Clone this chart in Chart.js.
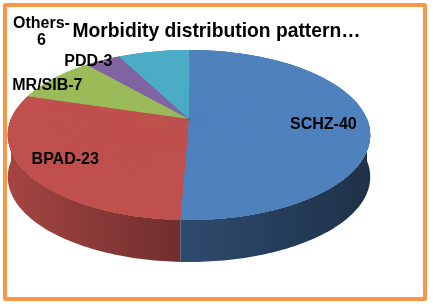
<!DOCTYPE html>
<html>
<head>
<meta charset="utf-8">
<script src="https://cdn.jsdelivr.net/npm/chart.js@4/dist/chart.umd.min.js"></script>
<style>
  body { margin: 0; background: #fff; }
  #frame {
    position: absolute; left: 3px; top: 3px; width: 424px; height: 298px;
    box-sizing: border-box; border: 4px solid #F79646; border-radius: 3px;
  }
  #chart { position: absolute; left: 0; top: 0; }
</style>
</head>
<body>
<div id="frame"></div>
<canvas id="chart" width="433" height="307"></canvas>
<script>
const categories = ['SCHZ', 'BPAD', 'MR/SIB', 'PDD', 'Others'];
const counts = [40, 23, 7, 3, 6];
const sliceColors = ['#4F81BD', '#C0504D', '#9BBB59', '#8064A2', '#4BACC6'];
const chartTitle = 'Morbidity distribution pattern\u2026';

// tilted pie seen in perspective (screen pixels)
const CX = 189, VY = 119;      // where the slices meet
const R = 178, S = 82, K = 0.188;
const DEPTH = 42;
const FONT = '"Liberation Sans", Arial, sans-serif';

// label placement: radial factor, alignment, nudge
const labelStyle = [
  { k: 0.753, align: 'center', dx: 0, dy: 4 },
  { k: 0.78, align: 'center', dx: 0, dy: 0 },
  { k: 0.77, align: 'right', dx: 0, dy: -2 },
  { k: 0.87, align: 'right', dx: 0, dy: -5 },
  { k: 1.1, align: 'center', dx: -109, dy: -13.5, wrap: true },
];

// unit-circle point of the pie plane -> screen
function proj(u, v) {
  const w = 1 / (1 - K * v);
  return [CX + R * u * w, VY + S * v * w];
}

function shade(hex, f) {
  const n = parseInt(hex.slice(1), 16);
  const r = Math.round(((n >> 16) & 255) * f);
  const g = Math.round(((n >> 8) & 255) * f);
  const b = Math.round((n & 255) * f);
  return `rgb(${r},${g},${b})`;
}

function drawArcs(chart, arcs) {
  arcs.forEach(el => el.draw(chart.ctx, chart.chartArea));
}

const tiltPie = {
  id: 'tiltPie',
  beforeDatasetsDraw(chart) {
    const ctx = chart.ctx;
    const arcs = chart.getDatasetMeta(0).data;
    const ox = arcs[0].x, oy = arcs[0].y, r = arcs[0].outerRadius;

    // side wall, only the front half shows
    arcs.forEach((arc, i) => {
      const a = Math.max(arc.startAngle, 0);
      const b = Math.min(arc.endAngle, Math.PI);
      if (b <= a) return;
      const steps = Math.max(2, Math.ceil((b - a) / 0.02));
      const top = [];
      for (let s = 0; s <= steps; s++) {
        const t = a + (b - a) * s / steps;
        top.push(proj(Math.cos(t), Math.sin(t)));
      }
      const grad = ctx.createLinearGradient(CX - R * 1.02, 0, CX + R * 1.02, 0);
      grad.addColorStop(0, shade(sliceColors[i], 0.86));
      grad.addColorStop(0.48, shade(sliceColors[i], 0.58));
      grad.addColorStop(1, shade(sliceColors[i], 0.38));
      ctx.beginPath();
      top.forEach((p, j) => j ? ctx.lineTo(p[0], p[1]) : ctx.moveTo(p[0], p[1]));
      for (let j = top.length - 1; j >= 0; j--) ctx.lineTo(top[j][0], top[j][1] + DEPTH);
      ctx.closePath();
      ctx.fillStyle = grad;
      ctx.fill();
    });

    // base layer: plain squash of the library's circle
    const e0 = proj(0, 0);
    ctx.save();
    ctx.translate(CX, VY + 16);
    ctx.scale(R * 1.018 / r, 85 / r);
    ctx.translate(-ox, -oy);
    drawArcs(chart, arcs);
    ctx.restore();

    // top face in perspective: thin wedges, each mapped affinely
    const N = 180, step = 2 * Math.PI / N;
    [0, 0.5].forEach(phase => {
      for (let j = 0; j < N; j++) {
        const t0 = (j + phase) * step, t1 = t0 + step;
        const e1x = r * Math.cos(t0), e1y = r * Math.sin(t0);
        const e2x = r * Math.cos(t1), e2y = r * Math.sin(t1);
        const A = proj(Math.cos(t0), Math.sin(t0));
        const B = proj(Math.cos(t1), Math.sin(t1));
        const f1x = A[0] - e0[0], f1y = A[1] - e0[1];
        const f2x = B[0] - e0[0], f2y = B[1] - e0[1];
        const det = e1x * e2y - e2x * e1y;
        const m00 = (f1x * e2y - f2x * e1y) / det;
        const m01 = (f2x * e1x - f1x * e2x) / det;
        const m10 = (f1y * e2y - f2y * e1y) / det;
        const m11 = (f2y * e1x - f1y * e2x) / det;
        ctx.save();
        ctx.setTransform(m00, m10, m01, m11,
          e0[0] - (m00 * ox + m01 * oy), e0[1] - (m10 * ox + m11 * oy));
        ctx.beginPath();
        ctx.moveTo(ox, oy);
        ctx.lineTo(ox + 1.1 * r * Math.cos(t0 - 0.003), oy + 1.1 * r * Math.sin(t0 - 0.003));
        ctx.lineTo(ox + 1.1 * r * Math.cos(t1 + 0.003), oy + 1.1 * r * Math.sin(t1 + 0.003));
        ctx.closePath();
        ctx.clip();
        drawArcs(chart, arcs);
        ctx.restore();
      }
    });
    return false;
  },
  afterDraw(chart) {
    const ctx = chart.ctx;
    const arcs = chart.getDatasetMeta(0).data;
    ctx.save();
    ctx.font = 'bold 16px ' + FONT;
    ctx.fillStyle = '#000';
    ctx.textBaseline = 'middle';
    arcs.forEach((arc, i) => {
      const s = labelStyle[i];
      const m = (arc.startAngle + arc.endAngle) / 2;
      const p = proj(s.k * Math.cos(m), s.k * Math.sin(m));
      const x = p[0] + s.dx, y = p[1] + s.dy;
      ctx.textAlign = s.align;
      if (s.wrap) {
        ctx.fillText(categories[i] + '-', x, y - 8.5);
        ctx.fillText(String(counts[i]), x, y + 8.5);
      } else {
        ctx.fillText(categories[i] + '-' + counts[i], x, y);
      }
    });
    ctx.restore();
  }
};

new Chart(document.getElementById('chart'), {
  type: 'pie',
  data: {
    labels: categories,
    datasets: [{
      data: counts,
      backgroundColor: sliceColors,
      borderWidth: 0,
      clip: false,
    }]
  },
  options: {
    responsive: false,
    devicePixelRatio: 1,
    animation: false,
    plugins: {
      legend: { display: false },
      tooltip: { enabled: false },
      title: {
        display: true,
        text: chartTitle,
        color: '#000',
        font: { family: FONT, size: 19.3, weight: 'bold' },
        padding: { top: 20, bottom: 0 },
      },
    },
  },
  plugins: [tiltPie],
});
</script>
</body>
</html>
